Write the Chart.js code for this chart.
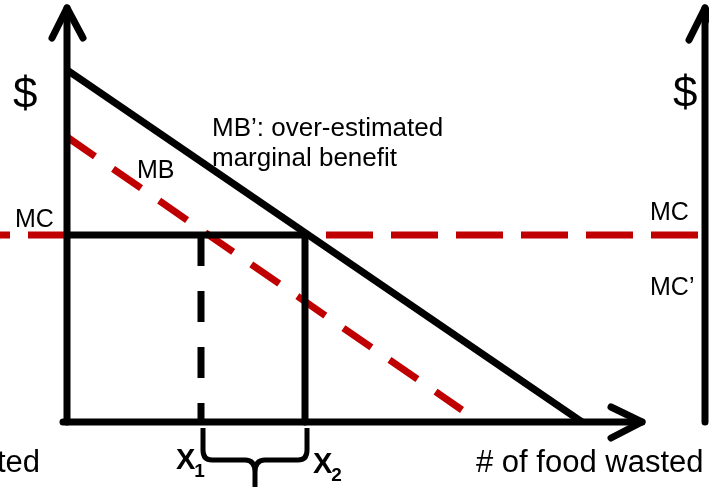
<!DOCTYPE html>
<html>
<head>
<meta charset="utf-8">
<script src="https://cdn.jsdelivr.net/npm/chart.js@4"></script>
<style>
  html, body { margin: 0; padding: 0; background: #fff; }
  #wrap { width: 709px; height: 487px; }
</style>
</head>
<body>
<div id="wrap"><canvas id="graphique"></canvas></div>
<script>
// Unités : quantité (x) et prix en $ (y), origine au coin des axes
const mbPrime = [{x: 0, y: 352}, {x: 515, y: 0}];   // MB' surestimé
const mb = [{x: 0, y: 285}, {x: 395, y: 12}];       // MB réel
const mcPrice = 187;                                 // niveau de MC
const quantities = [134, 238];                       // X1, X2
const qNames = ['1', '2'];
const axisTop = 414;       // flèche de l'axe $
const axisEnd = 575;       // flèche de l'axe des quantités
const rightAxisX = 638;    // axe $ du panneau suivant (coupé)

const RED = '#C00000';
const BLACK = '#000';

// petite aide pour les segments
function seg(points, color, dash, width) {
  return {
    data: points,
    showLine: true,
    borderColor: color,
    borderWidth: width || 7,
    borderDash: dash || [],
    pointRadius: 0,
    pointHoverRadius: 0,
    fill: false,
    tension: 0
  };
}

const datasets = [
  // axes
  seg([{x: 0, y: 0}, {x: 0, y: axisTop}], BLACK),
  seg([{x: -15, y: axisTop - 30}, {x: 0, y: axisTop}, {x: 16, y: axisTop - 30}], BLACK),
  seg([{x: -4, y: 0}, {x: axisEnd, y: 0}], BLACK),
  seg([{x: axisEnd - 31, y: 15}, {x: axisEnd, y: 0}, {x: axisEnd - 31, y: -16}], BLACK),
  seg([{x: rightAxisX, y: 0}, {x: rightAxisX, y: axisTop}], BLACK),
  seg([{x: rightAxisX - 16, y: axisTop - 32}, {x: rightAxisX, y: axisTop}, {x: rightAxisX + 16, y: axisTop - 32}], BLACK),
  // MB', MC, X1, X2
  seg(mbPrime, BLACK),
  seg([{x: 0, y: mcPrice}, {x: quantities[1] + 2, y: mcPrice}], BLACK),
  seg([{x: quantities[1], y: mcPrice}, {x: quantities[1], y: 0}], BLACK),
  seg([{x: quantities[0], y: mcPrice}, {x: quantities[0], y: 0}], BLACK, [31, 25]),
  // courbes rouges en pointillés
  seg(mb, RED, [34, 22]),
  seg([{x: -104, y: mcPrice}, {x: 3, y: mcPrice}], RED, [47, 18]),
  seg([{x: 259, y: mcPrice}, {x: 636, y: mcPrice}], RED, [47, 18])
];
// les axes et courbes noires au-dessus
datasets.forEach((d, i) => { d.order = i; d.borderCapStyle = i < 6 ? 'round' : 'butt'; d.borderJoinStyle = 'round'; });

const labels = [
  {t: '$', x: -54, y: 314, size: 44},
  {t: 'MB', x: 70, y: 244, size: 25},
  {t: 'MB’: over-estimated', x: 145, y: 286, size: 26},
  {t: 'marginal benefit', x: 145, y: 256, size: 26},
  {t: 'MC', x: -52, y: 195, size: 25},
  {t: 'MC', x: 583, y: 202, size: 25},
  {t: 'MC’', x: 583, y: 127, size: 25},
  {t: '$', x: 606, y: 315, size: 44},
  {t: '# of food wasted', x: -27, y: -50, size: 31, align: 'right'},
  {t: '# of food wasted', x: 409, y: -50, size: 31}
];
const FONT = '"Liberation Sans", Arial, sans-serif';

const diagramPlugin = {
  id: 'diagram',
  afterDatasetsDraw(chart) {
    const ctx = chart.ctx;
    const sx = chart.scales.x, sy = chart.scales.y;
    const px = v => sx.getPixelForValue(v);
    const py = v => sy.getPixelForValue(v);
    ctx.save();
    // accolade entre X1 et X2
    const xa = px(quantities[0] + 2), xb = px(quantities[1] + 2);
    const xm = (xa + xb) / 2;
    const top = py(-6), mid = py(-38), bot = py(-70);
    ctx.strokeStyle = BLACK;
    ctx.lineWidth = 5;
    ctx.lineCap = 'butt';
    ctx.beginPath();
    ctx.moveTo(xa, top);
    ctx.lineTo(xa, mid - 10);
    ctx.quadraticCurveTo(xa, mid, xa + 9, mid);
    ctx.lineTo(xm - 10, mid);
    ctx.quadraticCurveTo(xm, mid, xm, mid + 12);
    ctx.lineTo(xm, bot);
    ctx.moveTo(xm, mid + 12);
    ctx.quadraticCurveTo(xm, mid, xm + 10, mid);
    ctx.lineTo(xb - 9, mid);
    ctx.quadraticCurveTo(xb, mid, xb, mid - 10);
    ctx.lineTo(xb, top);
    ctx.stroke();

    // textes
    ctx.fillStyle = BLACK;
    ctx.textBaseline = 'alphabetic';
    labels.forEach(l => {
      ctx.font = l.size + 'px ' + FONT;
      ctx.textAlign = l.align || 'left';
      ctx.fillText(l.t, px(l.x), py(l.y));
    });
    // X1, X2 avec indices
    const qBase = [-47, -51];
    quantities.forEach((q, i) => {
      const x0 = i === 0 ? px(q) - 25 : px(q) + 8;
      const y0 = py(qBase[i]);
      ctx.textAlign = 'left';
      ctx.font = 'bold 29px ' + FONT;
      ctx.fillText('X', x0, y0);
      const w = ctx.measureText('X').width;
      ctx.font = 'bold 19px ' + FONT;
      ctx.fillText(qNames[i], x0 + w - 1, y0 + 8);
    });
    ctx.restore();
  }
};

const config = {
  type: 'scatter',
  data: { datasets: datasets },
  options: {
    responsive: true,
    maintainAspectRatio: false,
    animation: false,
    layout: { padding: 0 },
    scales: {
      x: { type: 'linear', display: false, min: -67, max: 642 },
      y: { type: 'linear', display: false, min: -65, max: 422 }
    },
    plugins: {
      legend: { display: false },
      tooltip: { enabled: false }
    }
  },
  plugins: [diagramPlugin]
};

const monGraphique = new Chart(document.getElementById('graphique'), config);
</script>
</body>
</html>
